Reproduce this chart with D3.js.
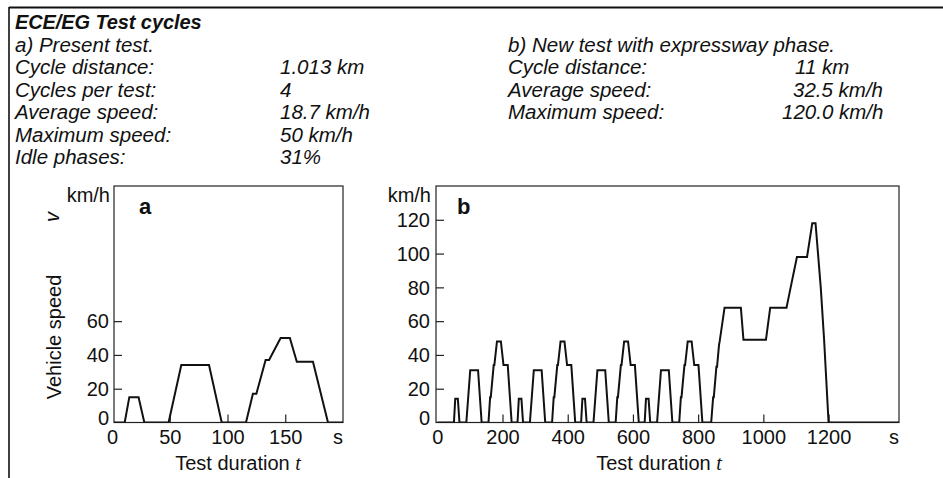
<!DOCTYPE html>
<html><head><meta charset="utf-8">
<script src="https://cdn.jsdelivr.net/npm/d3@7"></script>
<style>
html,body{margin:0;padding:0;background:#fff;}
svg{display:block;}
text{font-family:"Liberation Sans",Arial,Helvetica,sans-serif;fill:#111;}
</style></head><body>
<svg id="chart" width="943" height="478"></svg>
<script>
// ---------- data ----------
const titleText = "ECE/EG Test cycles";
const headA = "a) Present test.";
const infoLabelsA = ["Cycle distance:", "Cycles per test:", "Average speed:", "Maximum speed:", "Idle phases:"];
const infoValuesA = ["1.013 km", "4", "18.7 km/h", "50 km/h", "31%"];
const headB = "b) New test with expressway phase.";
const infoLabelsB = ["Cycle distance:", "Average speed:", "Maximum speed:"];
const infoValuesB = ["11 km", "32.5 km/h", "120.0 km/h"];

// chart a: one ECE cycle (time s, speed km/h)
const timeA  = [0, 11, 15, 23, 28, 49, 60, 84, 95, 116, 122, 125, 133, 136, 146, 154, 160, 174, 187, 200];
const speedA = [0,  0, 15, 15,  0,  0, 34, 34,  0,   0,  17,  17,  37,  37,  50,  50,  36,  36,   0,   0];
const xTicksA = [0, 50, 100, 150];
const yTicksA = [0, 20, 40, 60];

// chart b: 40 s idle, 4 ECE cycles, expressway (EUDC) phase
const timeB = [0,
  40, 51, 55, 63, 68, 89, 101, 125, 136, 157, 162, 164, 173, 175, 183, 195, 203, 216, 228,
  235, 246, 250, 258, 263, 284, 296, 320, 331, 352, 357, 359, 368, 370, 378, 390, 398, 411, 423,
  430, 441, 445, 453, 458, 479, 491, 515, 526, 547, 552, 554, 563, 565, 573, 585, 593, 606, 618,
  625, 636, 640, 648, 653, 674, 686, 710, 721, 742, 747, 749, 758, 760, 768, 780, 788, 801, 813,
  820, 840, 846, 848, 856, 858, 864, 866, 881, 931, 939, 1008, 1021, 1071, 1088, 1103, 1134, 1150, 1160, 1176, 1186, 1200, 1416];
const speedB = [0,
  0, 0, 14, 14, 0, 0, 31, 31, 0, 0, 15, 15, 34, 34, 48, 48, 34, 34, 0,
  0, 0, 14, 14, 0, 0, 31, 31, 0, 0, 15, 15, 34, 34, 48, 48, 34, 34, 0,
  0, 0, 14, 14, 0, 0, 31, 31, 0, 0, 15, 15, 34, 34, 48, 48, 34, 34, 0,
  0, 0, 14, 14, 0, 0, 31, 31, 0, 0, 15, 15, 34, 34, 48, 48, 34, 34, 0,
  0, 0, 15, 15, 33, 33, 46, 48, 68, 68, 49, 49, 68, 68, 84, 98, 98, 118, 118, 80, 50, 0, 0];
const xTicksB = [0, 200, 400, 600, 800, 1000, 1200];
const yTicksB = [0, 20, 40, 60, 80, 100, 120];

const unitY = "km/h", unitX = "s";
const yTitle = "Vehicle speed", yVar = "v";
const xTitle = "Test duration ", xVar = "t";

// ---------- drawing ----------
const svg = d3.select("#chart");
const FS = 20;
const FI = 20.5;

// outer border (top + left)
svg.append("line").attr("x1", 9).attr("y1", 7.5).attr("x2", 943).attr("y2", 7.5)
  .attr("stroke", "#111").attr("stroke-width", 2);
svg.append("line").attr("x1", 9).attr("y1", 7).attr("x2", 9).attr("y2", 478)
  .attr("stroke", "#111").attr("stroke-width", 1.6);

// title + info block
svg.append("text").attr("x", 15).attr("y", 28.5).attr("font-size", 20)
  .attr("font-weight", "bold").attr("font-style", "italic").attr("letter-spacing", -0.1)
  .text(titleText);
const rowY = [51.5, 74, 96.5, 119, 141.5, 164];
svg.append("text").attr("x", 15).attr("y", rowY[0]).attr("font-size", FI).attr("font-style", "italic").text(headA);
infoLabelsA.forEach((d, i) => {
  svg.append("text").attr("x", 15).attr("y", rowY[i + 1]).attr("font-size", FI).attr("font-style", "italic").text(d);
  svg.append("text").attr("x", 280).attr("y", rowY[i + 1]).attr("font-size", FI).attr("font-style", "italic").text(infoValuesA[i]);
});
svg.append("text").attr("x", 508).attr("y", rowY[0]).attr("font-size", FI).attr("font-style", "italic").text(headB);
const valueXB = [795, 793, 782];
infoLabelsB.forEach((d, i) => {
  svg.append("text").attr("x", 508).attr("y", rowY[i + 1]).attr("font-size", FI).attr("font-style", "italic").text(d);
  svg.append("text").attr("x", valueXB[i]).attr("y", rowY[i + 1]).attr("font-size", FI).attr("font-style", "italic").text(infoValuesB[i]);
});

const yScale = d3.scaleLinear().domain([0, 140]).range([422.5, 186]);
const fmt = d3.format("d");

function drawChart(cfg) {
  const { id, left, right, x, times, speeds, xTicks, yTicks, letter, letterX, unitXPos, titleX, labelPad } = cfg;
  const top = 186, bottom = 422.5;
  const g = svg.append("g");
  svg.append("clipPath").attr("id", "clip" + id).append("rect")
    .attr("x", left).attr("y", top).attr("width", right - left).attr("height", bottom - top);
  g.append("rect").attr("x", left).attr("y", top).attr("width", right - left).attr("height", bottom - top)
    .attr("fill", "none").attr("stroke", "#222").attr("stroke-width", 1.2);
  const ya = g.append("g").attr("transform", `translate(${left},0)`)
    .call(d3.axisLeft(yScale).tickValues(yTicks).tickFormat(fmt).tickSize(-8).tickPadding(labelPad));
  ya.select(".domain").remove();
  ya.selectAll(".tick line").attr("stroke", "#222").attr("stroke-width", 1.2)
    .filter(d => d === 0).remove();
  ya.selectAll(".tick text").attr("font-size", FS).attr("font-family", null).attr("fill", "#111")
    .attr("dy", d => d === 0 ? "0.08em" : "0.34em");
  const xa = g.append("g").attr("transform", `translate(0,${bottom})`)
    .call(d3.axisBottom(x).tickValues(xTicks).tickFormat(fmt).tickSize(-8).tickPadding(7));
  xa.select(".domain").remove();
  xa.selectAll(".tick line").attr("stroke", "#222").attr("stroke-width", 1.2)
    .filter(d => d === 0).remove();
  xa.selectAll(".tick text").attr("font-size", FS).attr("font-family", null).attr("fill", "#111");
  const pts = times.map((t, i) => [t, speeds[i]]);
  g.append("path").datum(pts).attr("clip-path", `url(#clip${id})`)
    .attr("d", d3.line().x(d => x(d[0])).y(d => yScale(d[1])))
    .attr("fill", "none").attr("stroke", "#111").attr("stroke-width", 2).attr("stroke-linejoin", "miter");
  g.append("text").attr("x", left - labelPad + 1).attr("y", 195).attr("dy", "0.35em")
    .attr("text-anchor", "end").attr("font-size", FS).text(unitY);
  g.append("text").attr("x", letterX).attr("y", 214).attr("font-size", 22).attr("font-weight", "bold").text(letter);
  g.append("text").attr("x", unitXPos).attr("y", 443.5).attr("text-anchor", "middle").attr("font-size", FS).text(unitX);
  const xt = g.append("text").attr("x", titleX).attr("y", 470).attr("text-anchor", "middle").attr("font-size", FS);
  xt.append("tspan").text(xTitle);
  xt.append("tspan").attr("font-family", "'Liberation Serif','DejaVu Serif',serif").attr("font-style", "italic").text(xVar);
}

drawChart({ id: "a", left: 114, right: 343, x: d3.scaleLinear().domain([0, 200]).range([112, 343]),
  times: timeA, speeds: speedA, xTicks: xTicksA, yTicks: yTicksA, letter: "a", letterX: 139,
  unitXPos: 338, titleX: 238, labelPad: 5 });
drawChart({ id: "b", left: 436, right: 899, x: d3.scaleLinear().domain([0, 1416]).range([437.3, 899]),
  times: timeB, speeds: speedB, xTicks: xTicksB, yTicks: yTicksB, letter: "b", letterX: 457,
  unitXPos: 894, titleX: 659, labelPad: 6 });

svg.append("text").attr("transform", "translate(61,337) rotate(-90)").attr("text-anchor", "middle")
  .attr("font-size", FS).text(yTitle);
svg.append("text").attr("transform", "translate(59,217) rotate(-90)").attr("text-anchor", "middle")
  .attr("font-size", FS).attr("font-family", "'Liberation Serif','DejaVu Serif',serif").attr("font-style", "italic").text(yVar);
</script>
</body></html>
